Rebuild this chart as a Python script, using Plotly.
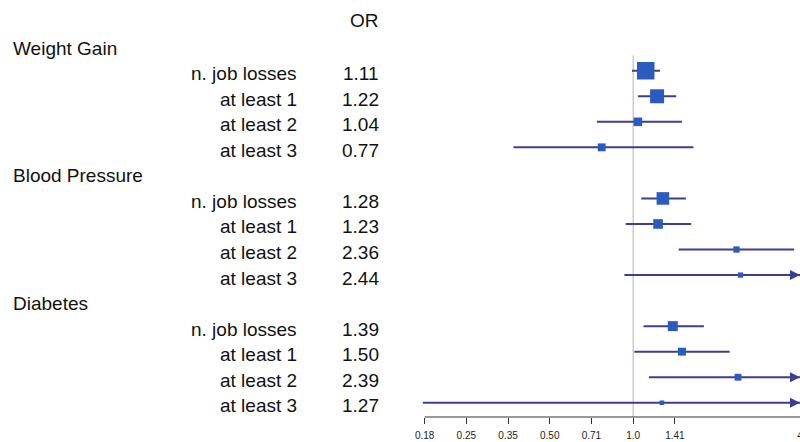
import math
import plotly.graph_objects as go

# ---------------- data ----------------
groups = ["Weight Gain", "Blood Pressure", "Diabetes"]
subgroups = ["n. job losses", "at least 1", "at least 2", "at least 3"]

odds_ratio = [1.11, 1.22, 1.04, 0.77,
              1.28, 1.23, 2.36, 2.44,
              1.39, 1.50, 2.39, 1.27]
ci_lower = [0.99, 1.04, 0.74, 0.37,
            1.07, 0.94, 1.46, 0.93,
            1.09, 1.01, 1.14, 0.16]
ci_upper = [1.25, 1.43, 1.50, 1.65,
            1.55, 1.62, 3.81, 6.40,
            1.80, 2.23, 5.00, 10.1]
box_weight = [1.00, 0.80, 0.49, 0.45,
              0.72, 0.55, 0.36, 0.30,
              0.57, 0.45, 0.39, 0.26]

tick_values = [0.1768, 0.25, 0.3536, 0.5, 0.7071, 1.0, 1.4142, 4.0]
tick_labels = ["0.18", "0.25", "0.35", "0.50", "0.71", "1.0", "1.41", "4"]

# ---------------- style ----------------
W, H = 800, 442
FONT = "Liberation Sans, Arial, sans-serif"
LINE_COL = "#3c3d95"
BOX_COL = "#2a5bbf"
REF_COL = "#b4b4b4"
TXT_COL = "#111111"
BOX_MAX = 17.5
x_min, x_max = 0.174, 4.0
x_dom0 = 422.7 / W
axis_px = 417
row0_px, row_step = 45.2, 25.54
y_top = (0 - row0_px) / row_step
y_bot = (axis_px - row0_px) / row_step
label_px, or_px, group_px = 299, 381, 11
text_shift = -3

# row positions (headers included)
row_y = []
header_y = []
k = 0
for g in groups:
    header_y.append(k)
    k += 1
    for s in subgroups:
        row_y.append(k)
        k += 1

fig = go.Figure()

# reference line at OR = 1
fig.add_trace(go.Scatter(x=[1, 1], y=[0.4, y_bot], mode="lines",
                         line=dict(color=REF_COL, width=1), hoverinfo="skip",
                         showlegend=False))

# confidence intervals
xs, ys = [], []
for lo, hi, y in zip(ci_lower, ci_upper, row_y):
    xs += [max(lo, x_min * 0.999), min(hi, x_max * 1.01), None]
    ys += [y, y, None]
fig.add_trace(go.Scatter(x=xs, y=ys, mode="lines",
                         line=dict(color=LINE_COL, width=2), hoverinfo="skip",
                         showlegend=False))

# point estimates
fig.add_trace(go.Scatter(x=odds_ratio, y=row_y, mode="markers",
                         marker=dict(symbol="square", color=BOX_COL,
                                     size=[w * BOX_MAX for w in box_weight],
                                     line=dict(width=0), opacity=1),
                         showlegend=False))

annotations = []
# arrows for CIs beyond axis
for hi, y in zip(ci_upper, row_y):
    if hi > x_max:
        annotations.append(dict(x=math.log10(x_max), y=y, xref="x", yref="y",
                                ax=-9, ay=0, axref="pixel", ayref="pixel",
                                text="", showarrow=True, arrowhead=2,
                                arrowsize=1, arrowwidth=2, arrowcolor=LINE_COL,
                                standoff=0))

def txt(text, xpx, y, anchor):
    return dict(x=xpx / W, y=y, xref="paper", yref="y", text=text,
                showarrow=False, xanchor=anchor, yanchor="middle",
                yshift=text_shift,
                font=dict(family=FONT, size=19, color=TXT_COL))

annotations.append(txt("OR", or_px, -1.1, "right"))
for g, hy in zip(groups, header_y):
    annotations.append(txt(g, group_px, hy, "left"))
for i, y in enumerate(row_y):
    annotations.append(txt(subgroups[i % len(subgroups)], label_px, y, "right"))
    annotations.append(txt(f"{odds_ratio[i]:.2f}", or_px, y, "right"))

# axis line from first tick to the end
r0, r1 = math.log10(x_min), math.log10(x_max)
ax_start = x_dom0 + (math.log10(tick_values[0]) - r0) / (r1 - r0) * (1 - x_dom0)

fig.update_layout(
    width=W, height=H, margin=dict(l=0, r=0, t=0, b=0, autoexpand=False),
    paper_bgcolor="white", plot_bgcolor="white",
    annotations=annotations,
    shapes=[dict(type="line", xref="paper", yref="paper",
                 x0=ax_start, x1=1, y0=(H - axis_px) / H, y1=(H - axis_px) / H,
                 line=dict(color="#333333", width=1.2))],
    xaxis=dict(type="log", range=[r0, r1], domain=[x_dom0, 1],
               tickvals=tick_values, ticktext=tick_labels,
               ticks="outside", ticklen=6, tickwidth=1.2, tickcolor="#333333",
               ticklabelstandoff=3, ticklabeloverflow="allow",
               automargin=False,
               showgrid=False, zeroline=False, showline=False,
               tickfont=dict(family=FONT, size=10, color="#222222"),
               fixedrange=True),
    yaxis=dict(range=[y_bot, y_top], domain=[(H - axis_px) / H, 1],
               visible=False, fixedrange=True, automargin=False),
)

fig.write_html("out.html",
               config={"displayModeBar": False},
               post_script="document.body.style.margin='0px';"
                           "document.body.style.overflow='hidden';")
